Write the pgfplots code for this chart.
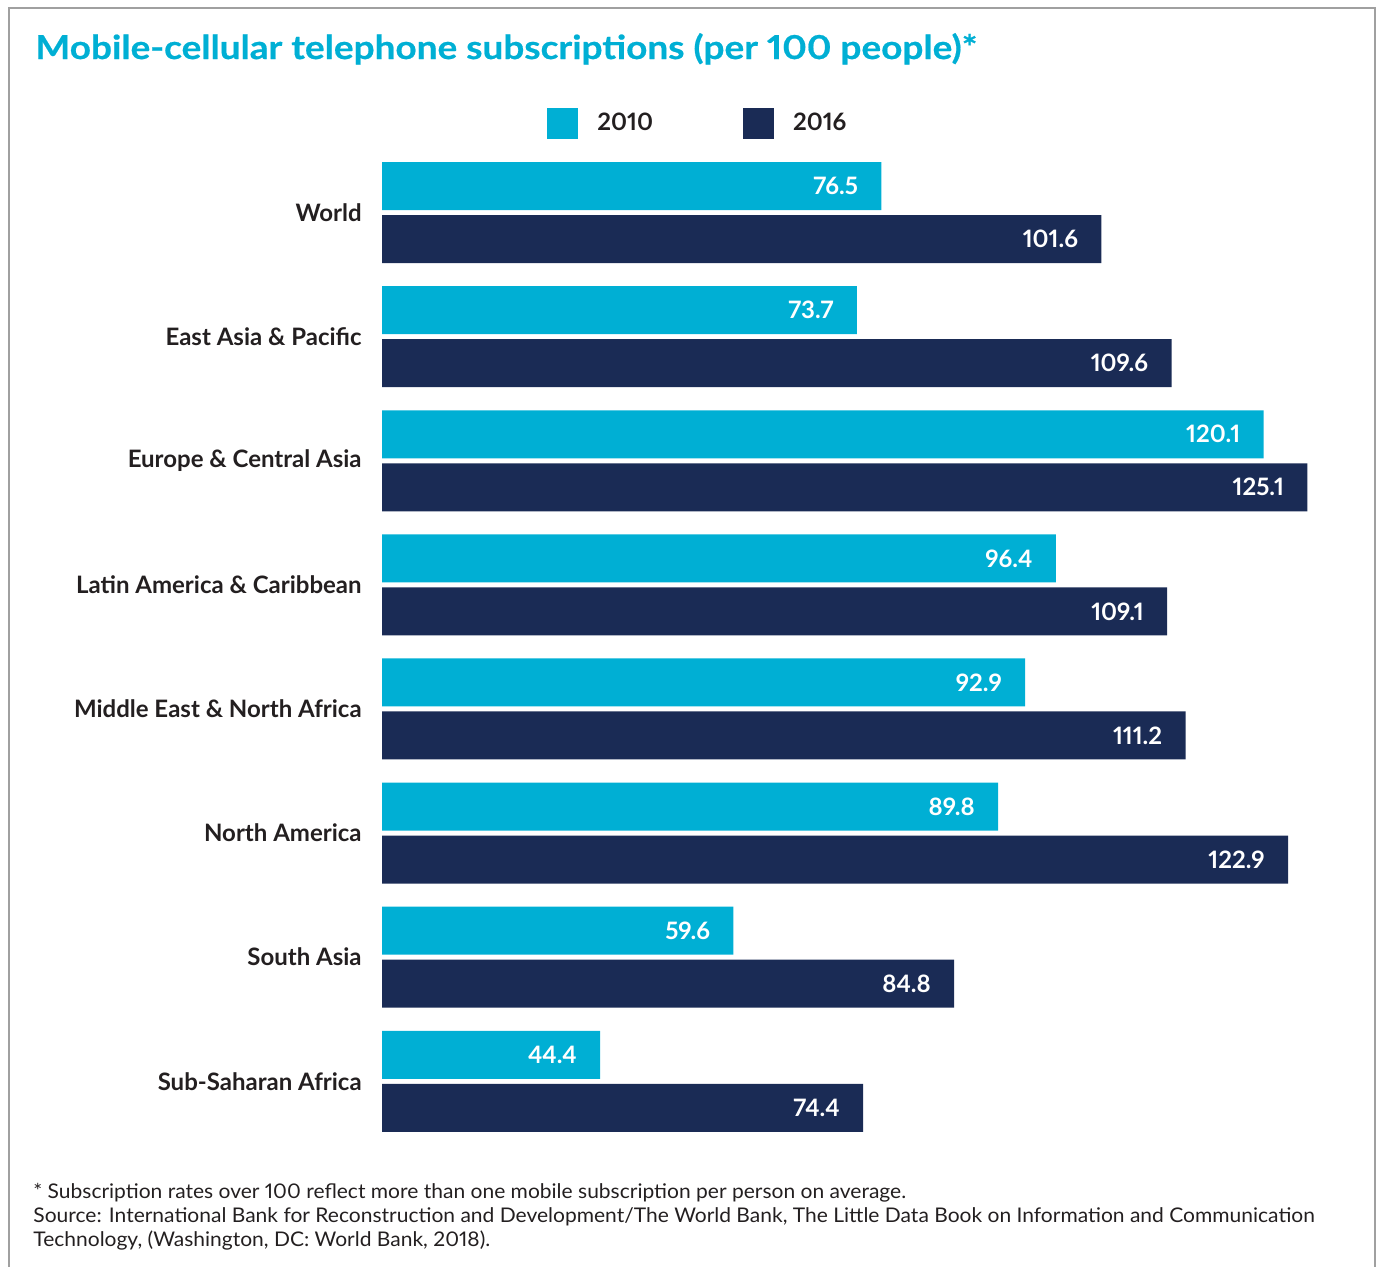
\documentclass[border=0pt]{standalone}
\usepackage{fontspec}
\setmainfont{Lato}[Numbers=Proportional]
\newfontfamily\titlefont{Lato}[Numbers=Proportional, FakeStretch=1.12, BoldFeatures={FakeBold=0.6}]
\newfontfamily\notefont{Lato}[Numbers=Proportional, FakeStretch=1.04]
\usepackage{pgfplots}
\pgfplotsset{compat=1.18}
\usepackage{pgfplotstable}
\definecolor{cyanbar}{HTML}{00AFD4}
\definecolor{navybar}{HTML}{1A2B55}
\definecolor{txt}{HTML}{231F20}
\definecolor{framec}{HTML}{A0A0A0}
\pgfplotstableread{
y v2010 v2016
7 76.5 101.6
6 73.7 109.6
5 120.1 125.1
4 96.4 109.1
3 92.9 111.2
2 89.8 122.9
1 59.6 84.8
0 44.4 74.4
}\data
\begin{document}
\begin{tikzpicture}
\useasboundingbox (0,0) rectangle (690pt,-633pt);
\draw[framec, line width=1pt] (4.25pt,-640pt) -- (4.25pt,-4pt) -- (687.5pt,-4pt) -- (687.5pt,-640pt);
\node[anchor=base west, inner sep=0pt, font=\titlefont\bfseries\fontsize{16.5}{19}\selectfont, text=cyanbar] at (17.5pt,-29.5pt) {Mobile-cellular telephone subscriptions (per 100 people)*};
\begin{axis}[
  at={(191pt,-571.65pt)}, anchor=south west,
  width=471pt, height=496.4pt, scale only axis,
  xmin=19.5, xmax=127, ymin=-0.5, ymax=7.5,
  xtick=\empty, ytick={0,...,7},
  yticklabels={Sub-Saharan Africa,South Asia,North America,Middle East \& North Africa,Latin America \& Caribbean,Europe \& Central Asia,East Asia \& Pacific,World},
  axis line style={draw=none}, major tick length=0pt,
  yticklabel style={font=\bfseries\fontsize{12}{14}\selectfont, text=txt, inner sep=0pt, xshift=-10pt},
  xbar, bar width=24pt,
  point meta=x,
  nodes near coords={\pgfmathprintnumber[fixed,fixed zerofill,precision=1,assume math mode=true]{\pgfplotspointmeta}},
  nodes near coords style={anchor=east, xshift=-11.5pt, font=\bfseries\fontsize{12}{14}\selectfont, text=white, inner sep=0pt},
  legend columns=2,
  legend image code/.code={\fill[#1] (0pt,-7.75pt) rectangle (15.5pt,7.75pt);},
  legend style={draw=none, fill=none, inner sep=0pt, at={(0.1752,1.027)}, anchor=west,
    font=\bfseries\fontsize{12}{15}\selectfont, text=txt, nodes={inner sep=0pt},
    /tikz/every odd column/.append style={column sep=9.5pt},
    /tikz/every even column/.append style={column sep=45pt}},
]
\addplot[fill=cyanbar, draw=none, bar shift=13.25pt] table[x=v2010, y=y] {\data};
\addplot[fill=navybar, draw=none, bar shift=-13.25pt] table[x=v2016, y=y] {\data};
\legend{2010,2016}
\end{axis}
\node[anchor=base west, inner sep=0pt, font=\notefont\fontsize{10.1}{12}\selectfont, text=txt] at (16.5pt,-599pt) {* Subscription rates over 100 reflect more than one mobile subscription per person on average.};
\node[anchor=base west, inner sep=0pt, font=\notefont\fontsize{10.1}{12}\selectfont, text=txt] at (16.5pt,-611pt) {Source: International Bank for Reconstruction and Development/The World Bank, The Little Data Book on Information and Communication};
\node[anchor=base west, inner sep=0pt, font=\notefont\fontsize{10.1}{12}\selectfont, text=txt] at (16.5pt,-623pt) {Technology, (Washington, DC: World Bank, 2018).};
\end{tikzpicture}
\end{document}
